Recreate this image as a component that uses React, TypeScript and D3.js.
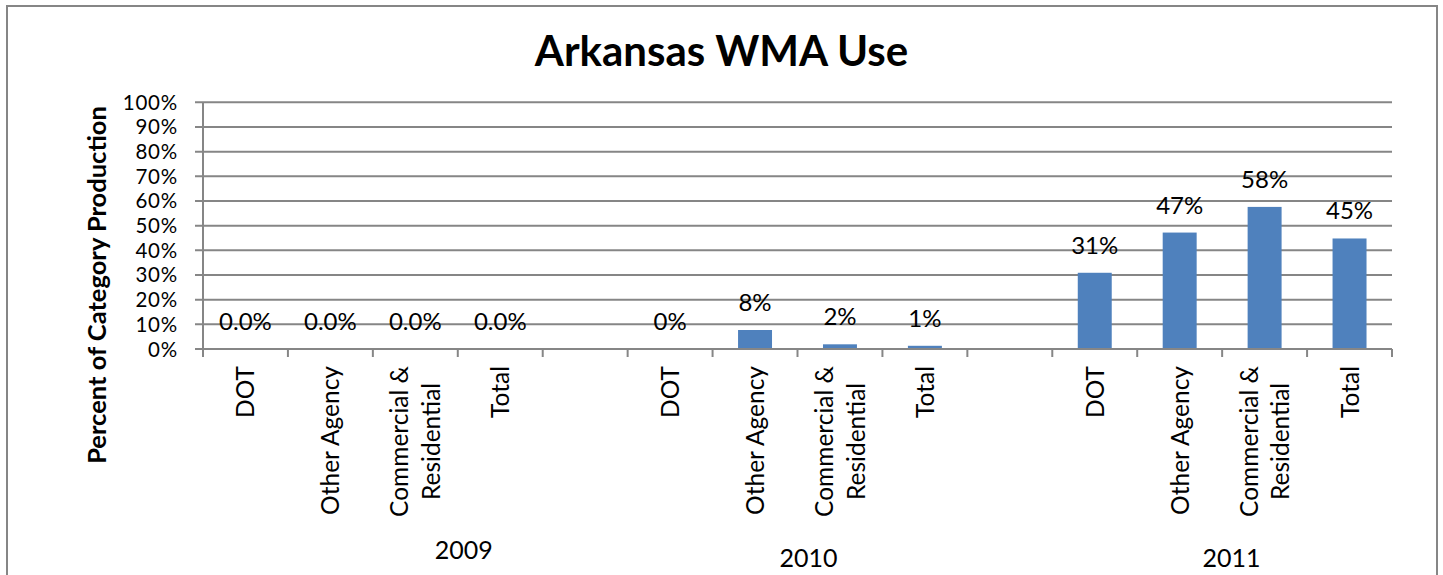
import React, { useEffect, useRef } from "react";
import * as d3 from "d3";

// ---- Data ----
const years = ["2009", "2010", "2011"];
const subCategories = ["DOT", "Other Agency", "Commercial & Residential", "Total"];
const values2009 = [0, 0, 0, 0];
const values2010 = [0, 7.7, 1.9, 1.3];
const values2011 = [30.9, 47.2, 57.6, 44.8];
const labels2009 = ["0.0%", "0.0%", "0.0%", "0.0%"];
const labels2010 = ["0%", "8%", "2%", "1%"];
const labels2011 = ["31%", "47%", "58%", "45%"];
const yTicks = [0, 10, 20, 30, 40, 50, 60, 70, 80, 90, 100];
const title = "Arkansas WMA Use";
const yTitle = "Percent of Category Production";

// ---- Layout ----
const W = 1443;
const H = 575;
const plot = { left: 203, right: 1392, top: 102.3, bottom: 349 };
const FONT = "Lato, 'Open Sans', sans-serif";
const FS = 24;
const GRID = "#868686";
const BAR = "#4F81BD";
// year label centre offset (in category slots from the group start) and baseline
const yearLabelOffset = [3.07, 2.13, 2.11];
const yearLabelBaseline = [559, 566.7, 566.7];

type Slot = { key: string; name: string; value: number | null; label: string };

function buildSlots(): Slot[] {
  const vals = [values2009, values2010, values2011];
  const labs = [labels2009, labels2010, labels2011];
  const slots: Slot[] = [];
  years.forEach((yr, yi) => {
    subCategories.forEach((c, ci) => {
      slots.push({ key: `${yr}-${ci}`, name: c, value: vals[yi][ci], label: labs[yi][ci] });
    });
    if (yi < years.length - 1) slots.push({ key: `gap-${yi}`, name: "", value: null, label: "" });
  });
  return slots;
}

function wrapLabel(s: string): string[] {
  const i = s.indexOf("& ");
  if (i >= 0) return [s.slice(0, i + 1), s.slice(i + 2)];
  return [s];
}

export default function App() {
  const ref = useRef<SVGSVGElement>(null);

  useEffect(() => {
    const svg = d3.select(ref.current);
    svg.selectAll("*").remove();
    const slots = buildSlots();

    const x = d3
      .scaleBand<string>()
      .domain(slots.map((s) => s.key))
      .range([plot.left, plot.right])
      .paddingInner(0)
      .paddingOuter(0);
    const y = d3.scaleLinear().domain([0, 100]).range([plot.bottom, plot.top]);
    const bw = x.bandwidth();

    // background + outer border
    svg.append("rect").attr("x", 0).attr("y", 0).attr("width", W).attr("height", H).attr("fill", "#fff");
    svg
      .append("rect")
      .attr("x", 7)
      .attr("y", 6)
      .attr("width", 1430)
      .attr("height", 620)
      .attr("fill", "none")
      .attr("stroke", GRID)
      .attr("stroke-width", 2);

    // title
    svg
      .append("text")
      .attr("x", 721.5)
      .attr("y", 66)
      .attr("text-anchor", "middle")
      .attr("font-family", FONT)
      .attr("font-weight", "bold")
      .attr("font-size", 42)
      .attr("fill", "#000")
      .text(title);

    // y axis title
    svg
      .append("text")
      .attr("transform", `translate(106,285) rotate(-90)`)
      .attr("text-anchor", "middle")
      .attr("font-family", FONT)
      .attr("font-weight", "bold")
      .attr("font-size", 25.5)
      .attr("fill", "#000")
      .text(yTitle);

    // gridlines
    svg
      .append("g")
      .selectAll("line")
      .data(yTicks.filter((t) => t > 0))
      .join("line")
      .attr("x1", plot.left - 8)
      .attr("x2", plot.right)
      .attr("y1", (d) => y(d))
      .attr("y2", (d) => y(d))
      .attr("stroke", GRID)
      .attr("stroke-width", 2);

    // y tick labels
    svg
      .append("g")
      .selectAll("text")
      .data(yTicks)
      .join("text")
      .attr("x", 178)
      .attr("y", (d) => y(d) + 7.5)
      .attr("text-anchor", "end")
      .attr("font-family", FONT)
      .attr("font-size", 20.5)
      .attr("letter-spacing", 0.8)
      .attr("fill", "#000")
      .text((d) => `${d}%`);

    // bars
    svg
      .append("g")
      .selectAll("rect")
      .data(slots.filter((s) => s.value !== null && (s.value as number) > 0))
      .join("rect")
      .attr("x", (d) => (x(d.key) as number) + bw * 0.3)
      .attr("width", bw * 0.4)
      .attr("y", (d) => y(d.value as number))
      .attr("height", (d) => plot.bottom - y(d.value as number))
      .attr("fill", BAR);

    // axes lines
    svg
      .append("line")
      .attr("x1", plot.left)
      .attr("x2", plot.left)
      .attr("y1", plot.top)
      .attr("y2", plot.bottom + 8)
      .attr("stroke", GRID)
      .attr("stroke-width", 2);
    svg
      .append("line")
      .attr("x1", plot.left - 8)
      .attr("x2", plot.right)
      .attr("y1", plot.bottom)
      .attr("y2", plot.bottom)
      .attr("stroke", GRID)
      .attr("stroke-width", 2);

    // x ticks at slot boundaries
    const bounds = slots.map((s) => x(s.key) as number).concat([plot.right]);
    svg
      .append("g")
      .selectAll("line")
      .data(bounds)
      .join("line")
      .attr("x1", (d) => d)
      .attr("x2", (d) => d)
      .attr("y1", plot.bottom)
      .attr("y2", plot.bottom + 8)
      .attr("stroke", GRID)
      .attr("stroke-width", 2);

    // data labels
    svg
      .append("g")
      .selectAll("text")
      .data(slots.filter((s) => s.value !== null))
      .join("text")
      .attr("x", (d) => (x(d.key) as number) + bw / 2)
      .attr("y", (d) => y(d.value as number) - 19)
      .attr("text-anchor", "middle")
      .attr("font-family", FONT)
      .attr("font-size", FS)
      .attr("fill", "#000")
      .text((d) => d.label);

    // category labels (rotated)
    const lineGap = 31.7;
    slots
      .filter((s) => s.name)
      .forEach((s) => {
        const cx = (x(s.key) as number) + bw / 2;
        const g = svg.append("g").attr("transform", `translate(${cx},366) rotate(-90)`);
        const lines = wrapLabel(s.name);
        const n = lines.length;
        const texts = lines.map((ln, i) =>
          g
            .append("text")
            .attr("y", 9 + (i - (n - 1) / 2) * lineGap)
            .attr("font-family", FONT)
            .attr("font-size", 24.5)
            .attr("fill", "#000")
            .text(ln)
        );
        if (n === 1) {
          texts[0].attr("x", 0).attr("text-anchor", "end");
        } else {
          const maxLen = d3.max(texts, (t) => (t.node() as SVGTextElement).getComputedTextLength()) || 0;
          texts.forEach((t) => t.attr("x", -maxLen / 2).attr("text-anchor", "middle"));
        }
      });

    // year labels
    years.forEach((yr, yi) => {
      const startKey = `${yr}-0`;
      const gx = (x(startKey) as number) + bw * yearLabelOffset[yi];
      svg
        .append("text")
        .attr("x", gx)
        .attr("y", yearLabelBaseline[yi])
        .attr("text-anchor", "middle")
        .attr("font-family", FONT)
        .attr("font-size", 25)
        .attr("fill", "#000")
        .text(yr);
    });
  }, []);

  return (
    <svg
      ref={ref}
      width={W}
      height={H}
      style={{ position: "absolute", left: 0, top: 0, display: "block" }}
    />
  );
}
